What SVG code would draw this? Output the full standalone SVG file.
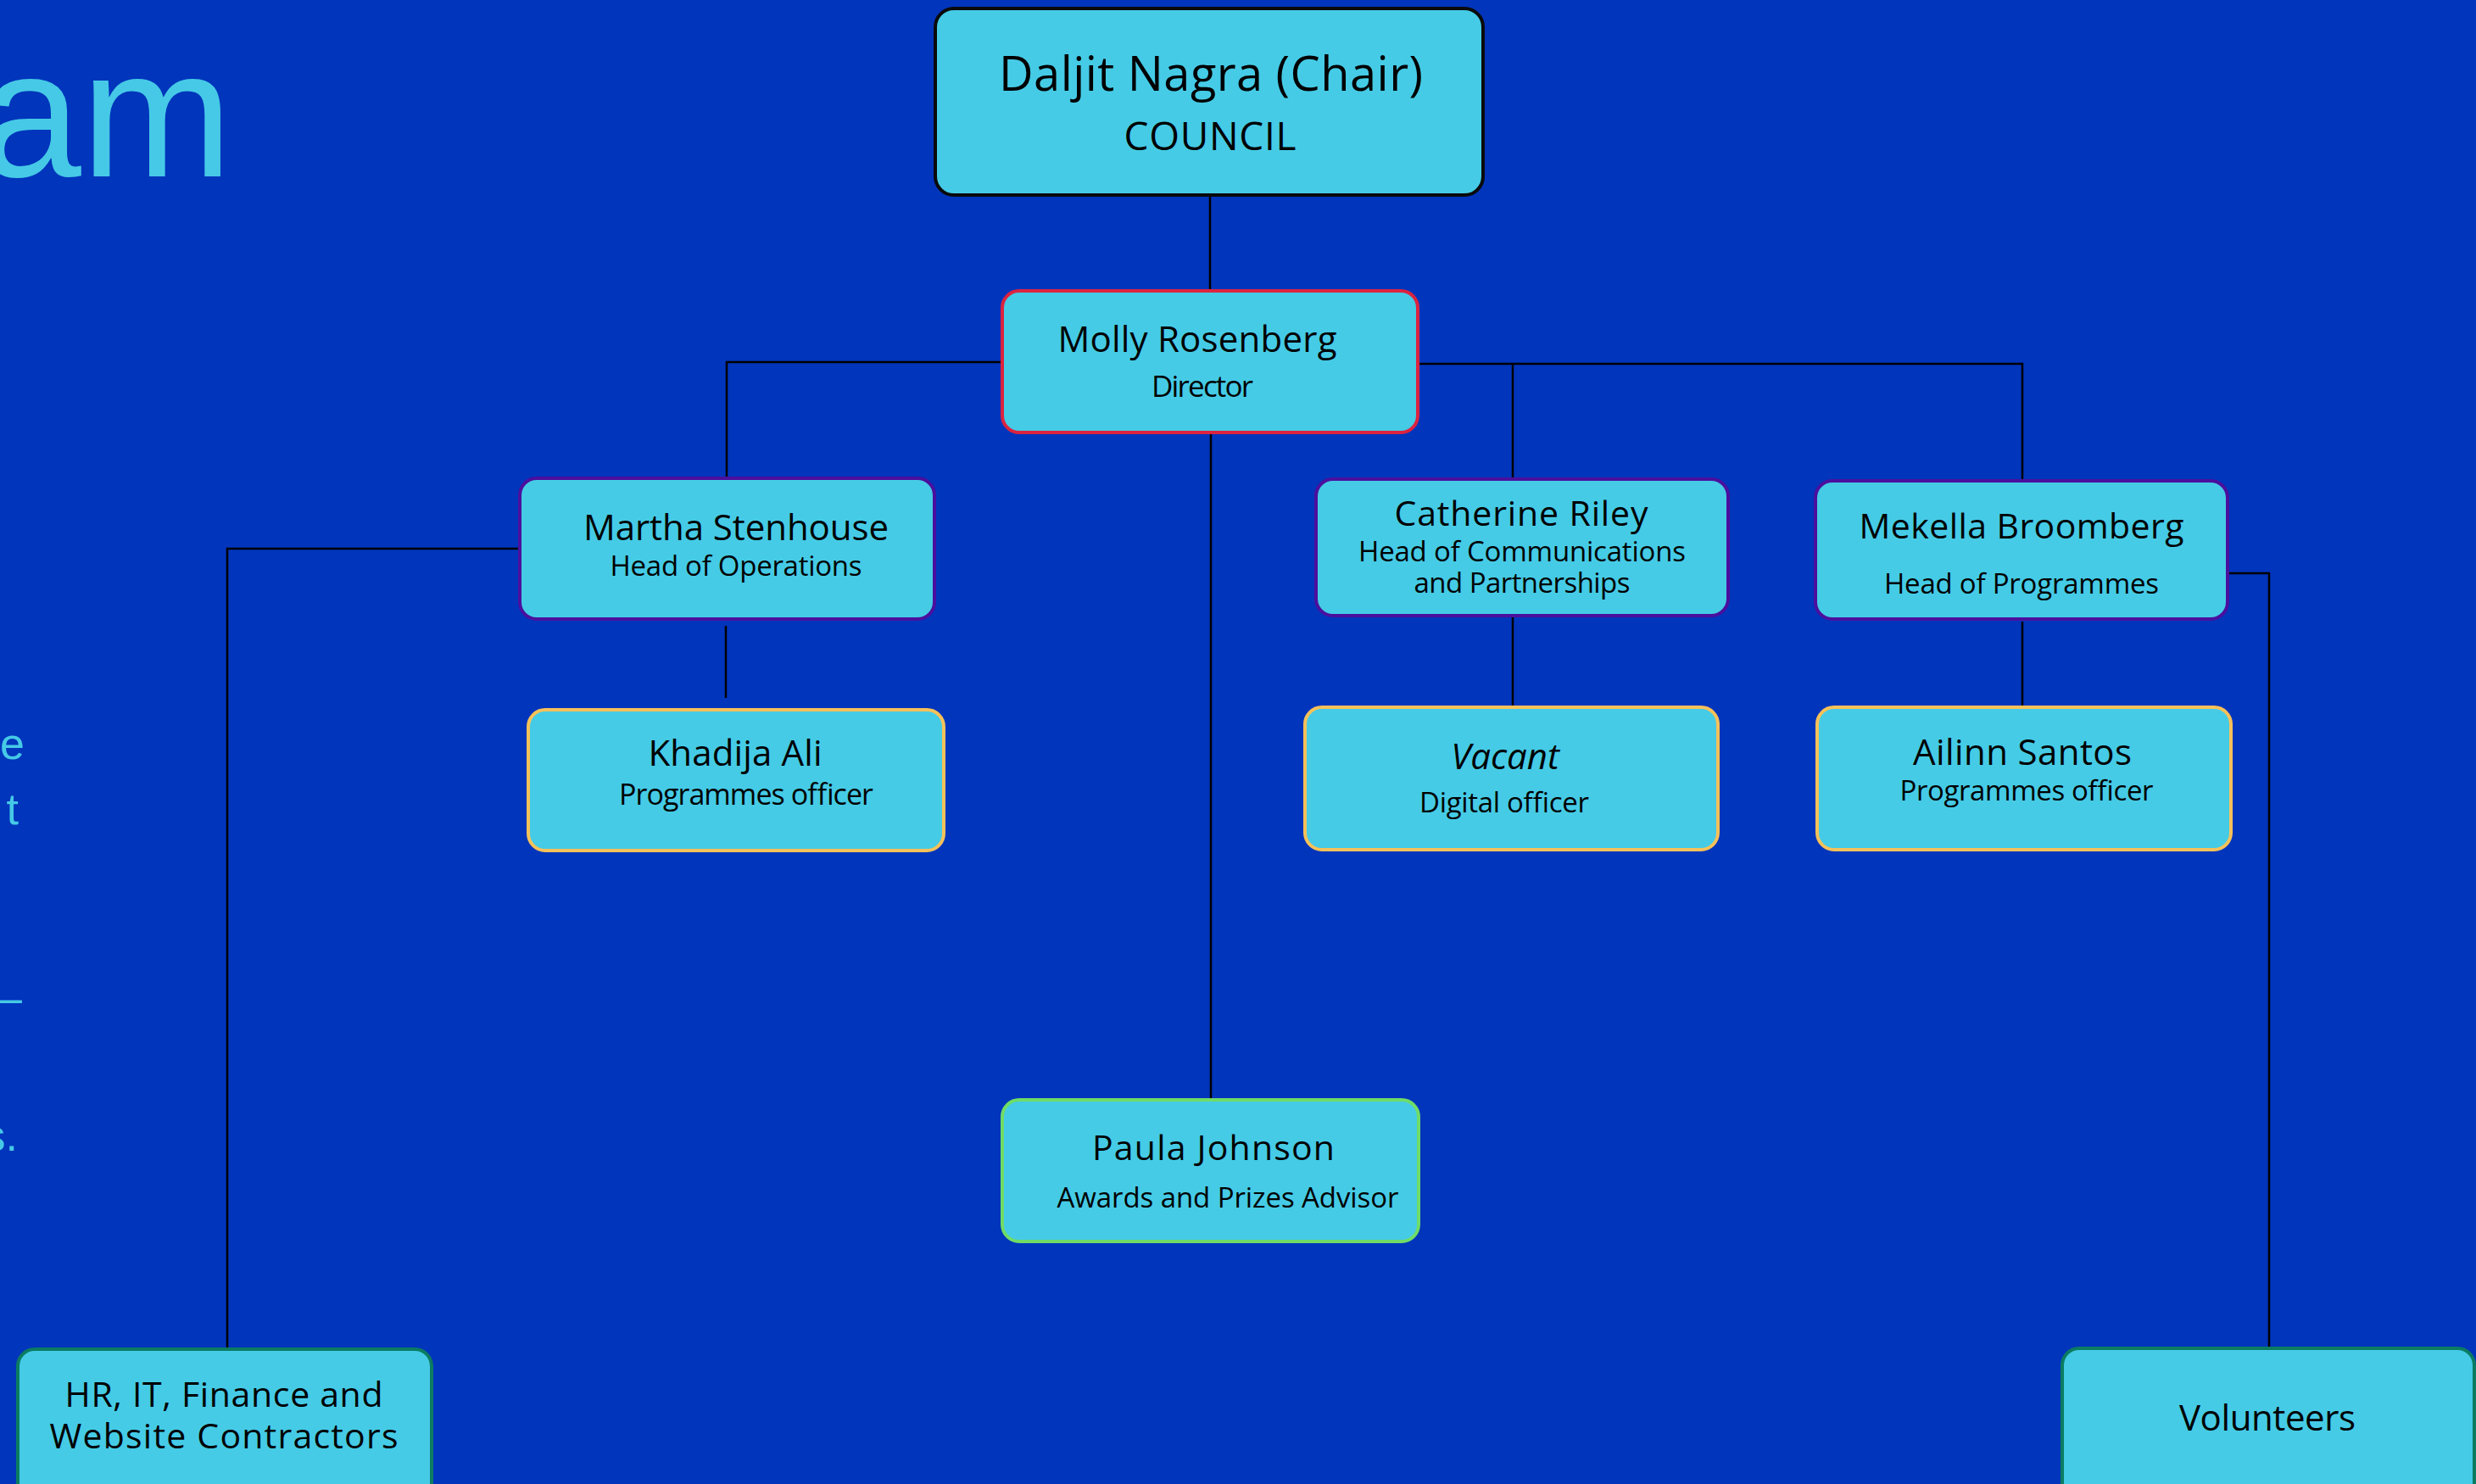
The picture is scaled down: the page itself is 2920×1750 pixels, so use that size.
<svg xmlns="http://www.w3.org/2000/svg" width="2920" height="1750" viewBox="0 0 2920 1750">
<style>
.box{fill:#45cbe6;stroke-width:4}
.council{stroke:#0a0a0a}
.dir{stroke:#dc2340}
.head{stroke:#4b0f9e}
.off{stroke:#f6c15a}
.adv{stroke:#6fdc67}
.ext{stroke:#0b7b62}
.t{font-family:"Open Sans","Noto Sans","Liberation Sans",sans-serif;fill:#000;text-anchor:middle}
.side{font-family:"Liberation Sans",Arial,sans-serif;fill:#46c9e6}
.conn{fill:none;stroke:#000;stroke-width:2.5}
</style>
<rect width="2920" height="1750" fill="#0035bc"/>
<text class="side" x="274" y="208" font-size="214" text-anchor="end">am</text>
<text class="side" x="29" y="895" font-size="52" text-anchor="end">e</text>
<text class="side" x="22" y="972" font-size="52" text-anchor="end">t</text>
<text class="side" x="26" y="1194" font-size="52" text-anchor="end">–</text>
<text class="side" x="21" y="1357" font-size="52" text-anchor="end">s.</text>
<g id="connectors">
<path class="conn" d="M1427 230V343"/>
<path class="conn" d="M1182 427H857V564"/>
<path class="conn" d="M1672 429H2385V567"/>
<path class="conn" d="M1784 429V565"/>
<path class="conn" d="M1428 510V1297"/>
<path class="conn" d="M856 738V823"/>
<path class="conn" d="M1784 728V833"/>
<path class="conn" d="M2385 733V833"/>
<path class="conn" d="M613 647H268V1591"/>
<path class="conn" d="M2627 676H2676V1590"/>
</g>
<g id="council">
<rect class="box council" x="1103" y="10" width="646" height="220" rx="22"/>
<text class="t" x="1428" y="107" font-size="56" textLength="500">Daljit Nagra (Chair)</text>
<text class="t" x="1427" y="177" font-size="46" textLength="203">COUNCIL</text>
</g>
<g id="molly">
<rect class="box dir" x="1182" y="343" width="490" height="167" rx="20"/>
<text class="t" x="1412" y="415" font-size="42" textLength="329">Molly Rosenberg</text>
<text class="t" x="1418" y="468" font-size="35" textLength="120">Director</text>
</g>
<g id="martha">
<rect class="box head" x="613" y="564" width="489" height="166" rx="20"/>
<text class="t" x="868" y="637" font-size="42" textLength="360">Martha Stenhouse</text>
<text class="t" x="868" y="679" font-size="33" textLength="297">Head of Operations</text>
</g>
<g id="khadija">
<rect class="box off" x="623" y="837" width="490" height="166" rx="20"/>
<text class="t" x="867" y="903" font-size="42" textLength="205">Khadija Ali</text>
<text class="t" x="880" y="949" font-size="34" textLength="300">Programmes officer</text>
</g>
<g id="catherine">
<rect class="box head" x="1552" y="565" width="486" height="161" rx="20"/>
<text class="t" x="1794" y="620" font-size="41" textLength="299">Catherine Riley</text>
<text class="t" x="1795" y="662" font-size="33" textLength="386">Head of Communications</text>
<text class="t" x="1795" y="699" font-size="33" textLength="255">and Partnerships</text>
</g>
<g id="mekella">
<rect class="box head" x="2141" y="567" width="486" height="163" rx="20"/>
<text class="t" x="2384" y="635" font-size="41" textLength="383">Mekella Broomberg</text>
<text class="t" x="2384" y="700" font-size="33" textLength="324">Head of Programmes</text>
</g>
<g id="vacant">
<rect class="box off" x="1539" y="834" width="487" height="168" rx="20"/>
<text class="t" x="1775" y="907" font-size="42" font-style="italic">Vacant</text>
<text class="t" x="1774" y="958" font-size="33" textLength="200">Digital officer</text>
</g>
<g id="ailinn">
<rect class="box off" x="2143" y="834" width="488" height="168" rx="20"/>
<text class="t" x="2385" y="902" font-size="42" textLength="258">Ailinn Santos</text>
<text class="t" x="2390" y="944" font-size="33" textLength="299">Programmes officer</text>
</g>
<g id="paula">
<rect class="box adv" x="1182" y="1297" width="491" height="167" rx="20"/>
<text class="t" x="1431" y="1368" font-size="41" textLength="286">Paula Johnson</text>
<text class="t" x="1448" y="1424" font-size="33" textLength="403">Awards and Prizes Advisor</text>
</g>
<g id="contractors">
<rect class="box ext" x="21" y="1591" width="488" height="200" rx="20"/>
<text class="t" x="264" y="1659" font-size="41" textLength="375">HR, IT, Finance and</text>
<text class="t" x="264" y="1708" font-size="41" textLength="411">Website Contractors</text>
</g>
<g id="volunteers">
<rect class="box ext" x="2432" y="1590" width="486" height="200" rx="20"/>
<text class="t" x="2674" y="1687" font-size="42" textLength="208">Volunteers</text>
</g>
</svg>
